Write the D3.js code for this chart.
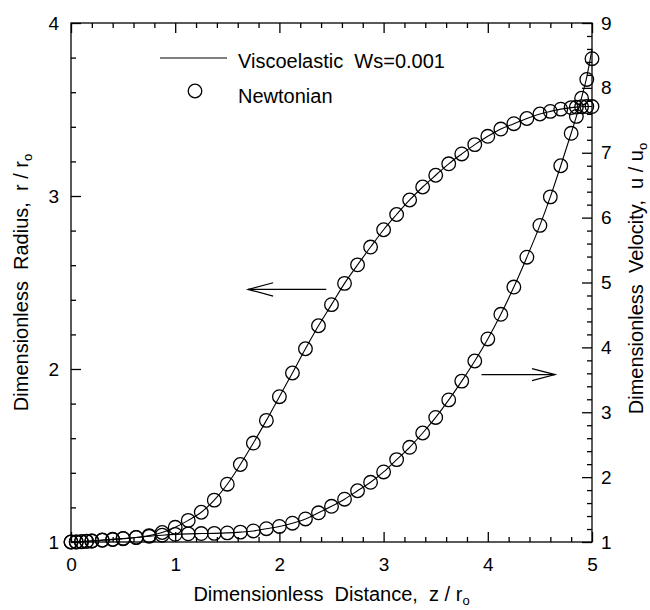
<!DOCTYPE html>
<html>
<head>
<meta charset="utf-8">
<script src="https://cdn.jsdelivr.net/npm/d3@7"></script>
<style>
    body { margin: 0; background: #fff; }
    svg text { font-family: Arial, "Liberation Sans", sans-serif; fill: #000; white-space: pre; }
</style>
</head>
<body>
<div id="viz"></div>
<script>
// axial positions z / r_o (same mesh for both series)
const zGrid = [0, 0.05, 0.1, 0.15, 0.2, 0.3, 0.4, 0.5, 0.625, 0.75, 0.875,
    1.0, 1.125, 1.25, 1.375, 1.5, 1.625, 1.75, 1.875, 2.0, 2.125, 2.25, 2.375, 2.5, 2.625, 2.75, 2.875,
    3.0, 3.125, 3.25, 3.375, 3.5, 3.625, 3.75, 3.875, 4.0, 4.125, 4.25, 4.375, 4.5,
    4.6, 4.7, 4.8, 4.85, 4.9, 4.95, 5.0];

// Newtonian (circles)
const newtRadius = [1.0, 1.0, 1.002, 1.004, 1.006, 1.01, 1.014, 1.019, 1.026, 1.037, 1.055,
    1.085, 1.125, 1.172, 1.242, 1.334, 1.448, 1.572, 1.703, 1.84, 1.977, 2.117, 2.25, 2.372, 2.495, 2.602, 2.705,
    2.805, 2.893, 2.977, 3.052, 3.12, 3.186, 3.243, 3.297, 3.345, 3.387, 3.418, 3.448, 3.474,
    3.489, 3.502, 3.511, 3.514, 3.516, 3.517, 3.517];
const newtVelocity = [1.0, 1.002, 1.005, 1.01, 1.015, 1.03, 1.042, 1.055, 1.07, 1.088, 1.105,
    1.118, 1.126, 1.13, 1.133, 1.14, 1.152, 1.17, 1.205, 1.24, 1.29, 1.355, 1.45, 1.55, 1.66, 1.79, 1.92,
    2.08, 2.27, 2.46, 2.68, 2.92, 3.19, 3.48, 3.79, 4.13, 4.51, 4.93, 5.39, 5.88,
    6.32, 6.8, 7.3, 7.56, 7.84, 8.13, 8.45];

// Viscoelastic Ws=0.001 (line)
const viscoRadius = [1.0, 1.0, 1.002, 1.004, 1.006, 1.01, 1.014, 1.019, 1.026, 1.037, 1.055,
    1.085, 1.125, 1.172, 1.242, 1.334, 1.448, 1.572, 1.703, 1.84, 1.977, 2.117, 2.25, 2.372, 2.495, 2.602, 2.705,
    2.805, 2.893, 2.977, 3.052, 3.12, 3.186, 3.243, 3.297, 3.345, 3.387, 3.418, 3.448, 3.474,
    3.489, 3.502, 3.511, 3.514, 3.516, 3.517, 3.517];
const viscoVelocity = [1.0, 1.002, 1.005, 1.01, 1.015, 1.03, 1.042, 1.055, 1.07, 1.088, 1.105,
    1.118, 1.126, 1.13, 1.133, 1.14, 1.152, 1.17, 1.205, 1.24, 1.29, 1.355, 1.45, 1.55, 1.66, 1.79, 1.92,
    2.08, 2.27, 2.46, 2.68, 2.92, 3.19, 3.48, 3.79, 4.13, 4.51, 4.93, 5.39, 5.88,
    6.32, 6.8, 7.3, 7.56, 7.85, 8.17, 8.6];

const xTicks = [0, 1, 2, 3, 4, 5];
const leftTicks = [1, 2, 3, 4];
const rightTicks = [1, 2, 3, 4, 5, 6, 7, 8, 9];

const W = 650, H = 610;
const margin = { top: 23, right: 58, bottom: 68, left: 71 };
const innerW = W - margin.left - margin.right;
const innerH = H - margin.top - margin.bottom;
const FS = 19;      // tick labels
const TFS = 20;     // titles and legend

const svg = d3.select("#viz").append("svg")
    .attr("width", W).attr("height", H);
const g = svg.append("g").attr("transform", `translate(${margin.left},${margin.top})`);

const x = d3.scaleLinear().domain([0, 5]).range([0, innerW]);
const yL = d3.scaleLinear().domain([1, 4]).range([innerH, 0]);
const yR = d3.scaleLinear().domain([1, 9]).range([innerH, 0]);

const minor = (a, b) => d3.range(a, b + 1e-9, 0.2).filter(v => Math.abs(v - Math.round(v)) > 1e-6);

function styleAxis(sel) {
    sel.attr("font-size", FS).attr("font-family", "Arial, 'Liberation Sans', sans-serif");
    sel.select(".domain").remove();
    sel.selectAll("line").attr("stroke", "#000").attr("stroke-width", 1.3);
}

// major ticks
g.append("g").attr("transform", `translate(0,${innerH})`)
    .call(d3.axisBottom(x).tickValues(xTicks).tickFormat(d3.format("d")).tickSizeInner(-10).tickSizeOuter(0).tickPadding(16))
    .call(styleAxis);
g.append("g")
    .call(d3.axisTop(x).tickValues(xTicks).tickFormat("").tickSizeInner(-10).tickSizeOuter(0))
    .call(styleAxis);
g.append("g")
    .call(d3.axisLeft(yL).tickValues(leftTicks).tickFormat(d3.format("d")).tickSizeInner(-10).tickSizeOuter(0).tickPadding(12))
    .call(styleAxis);
g.append("g").attr("transform", `translate(${innerW},0)`)
    .call(d3.axisRight(yR).tickValues(rightTicks).tickFormat(d3.format("d")).tickSizeInner(-10).tickSizeOuter(0).tickPadding(9))
    .call(styleAxis);

// minor ticks
g.append("g").attr("transform", `translate(0,${innerH})`)
    .call(d3.axisBottom(x).tickValues(minor(0, 5)).tickFormat("").tickSizeInner(-5).tickSizeOuter(0))
    .call(styleAxis);
g.append("g")
    .call(d3.axisTop(x).tickValues(minor(0, 5)).tickFormat("").tickSizeInner(-5).tickSizeOuter(0))
    .call(styleAxis);
g.append("g")
    .call(d3.axisLeft(yL).tickValues(minor(1, 4)).tickFormat("").tickSizeInner(-5).tickSizeOuter(0))
    .call(styleAxis);
g.append("g").attr("transform", `translate(${innerW},0)`)
    .call(d3.axisRight(yR).tickValues(minor(1, 9)).tickFormat("").tickSizeInner(-5).tickSizeOuter(0))
    .call(styleAxis);

// frame
g.append("rect")
    .attr("width", innerW).attr("height", innerH)
    .attr("fill", "none").attr("stroke", "#000").attr("stroke-width", 1.3);

// lines
const rLine = d3.line().x((d, i) => x(zGrid[i])).y(d => yL(d)).curve(d3.curveMonotoneX);
const uLine = d3.line().x((d, i) => x(zGrid[i])).y(d => yR(d)).curve(d3.curveMonotoneX);

g.append("path").datum(viscoRadius).attr("d", rLine)
    .attr("fill", "none").attr("stroke", "#000").attr("stroke-width", 1.1);
g.append("path").datum(viscoVelocity).attr("d", uLine)
    .attr("fill", "none").attr("stroke", "#000").attr("stroke-width", 1.1);

// circles
const R = 6.8;
g.selectAll(".cr").data(newtRadius).join("circle")
    .attr("class", "cr")
    .attr("cx", (d, i) => x(zGrid[i])).attr("cy", d => yL(d)).attr("r", R)
    .attr("fill", "none").attr("stroke", "#000").attr("stroke-width", 1.3);
g.selectAll(".cu").data(newtVelocity).join("circle")
    .attr("class", "cu")
    .attr("cx", (d, i) => x(zGrid[i])).attr("cy", d => yR(d)).attr("r", R)
    .attr("fill", "none").attr("stroke", "#000").attr("stroke-width", 1.3);

// arrows
function arrow(x1, x2, y, head, half) {
    const dir = Math.sign(x2 - x1);
    const a = g.append("g").attr("stroke", "#000").attr("stroke-width", 1.2).attr("fill", "none");
    a.append("line").attr("x1", x1).attr("y1", y).attr("x2", x2).attr("y2", y);
    a.append("path").attr("d", `M${x2 - dir * head},${y - half}L${x2},${y}L${x2 - dir * head},${y + half}`);
}
arrow(x(2.45), x(1.70), yL(2.46), 25, 6.7);
arrow(x(3.94), x(4.645), yR(3.58), 23, 6);

// legend
const lg = svg.append("g");
lg.append("line").attr("x1", 160).attr("x2", 227).attr("y1", 58).attr("y2", 58)
    .attr("stroke", "#000").attr("stroke-width", 1.1);
lg.append("text").attr("x", 238).attr("y", 68).attr("font-size", TFS).text("Viscoelastic  Ws=0.001");
lg.append("circle").attr("cx", 195).attr("cy", 91).attr("r", R)
    .attr("fill", "none").attr("stroke", "#000").attr("stroke-width", 1.3);
lg.append("text").attr("x", 238).attr("y", 103).attr("font-size", TFS).text("Newtonian");

// axis titles
function title(sel, main, sub) {
    sel.attr("font-size", TFS).attr("text-anchor", "middle");
    sel.append("tspan").text(main);
    sel.append("tspan").attr("font-size", 13).attr("dy", 4).text(sub);
}
svg.append("text").attr("x", margin.left + innerW / 2).attr("y", 601)
    .call(title, "Dimensionless  Distance,  z / r", "o");
svg.append("text").attr("transform", `translate(28,${margin.top + innerH / 2}) rotate(-90)`)
    .call(title, "Dimensionless  Radius,  r / r", "o");
svg.append("text").attr("transform", `translate(643,${margin.top + innerH / 2 - 4}) rotate(-90)`)
    .call(title, "Dimensionless  Velocity,  u / u", "o");
</script>
</body>
</html>
